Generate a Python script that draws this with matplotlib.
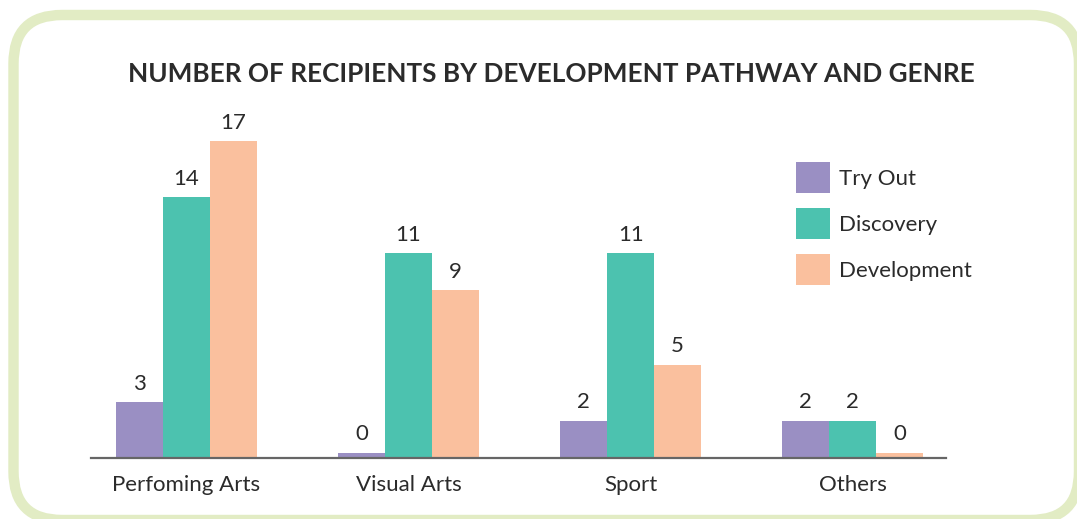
import numpy as np
import matplotlib.pyplot as plt
from matplotlib.patches import FancyBboxPatch, Patch

genres = ['Perfoming Arts', 'Visual Arts', 'Sport', 'Others']
try_out = [3, 0, 2, 2]
discovery = [14, 11, 11, 2]
development = [17, 9, 5, 0]
series_names = ['Try Out', 'Discovery', 'Development']
colors = ['#9a8fc3', '#4cc2af', '#fac09e']

TEXT = '#2b2b2b'
MIN_BAR = 0.28  # zero values still drawn as a thin sliver

plt.rcParams['font.family'] = ['Lato', 'DejaVu Sans']

W, H = 1077, 519
fig = plt.figure(figsize=(W / 100, H / 100), dpi=100)

# rounded green frame
frame = FancyBboxPatch((13.5 / W, -1 / H), (1079 - 13.5) / W, (504 + 1) / H,
                       boxstyle='round,pad=0,rounding_size=0.045',
                       transform=fig.transFigure, facecolor='white',
                       edgecolor='#e2ecc4', linewidth=7.5,
                       mutation_aspect=W / H, clip_on=False, zorder=-5)
fig.patches.append(frame)

fig.text(551 / W, 1 - 74 / H, 'NUMBER OF RECIPIENTS BY DEVELOPMENT PATHWAY AND GENRE',
         ha='center', va='center', fontsize=18.8, fontweight='bold', color=TEXT)

ax = fig.add_axes([91 / W, 1 - 458 / H, (946 - 91) / W, (458 - 100) / H], zorder=2)
ax.patch.set_alpha(0)

x = np.arange(len(genres))
width = 0.212
for i, (vals, col) in enumerate(zip([try_out, discovery, development], colors)):
    pos = x + (i - 1) * width
    heights = [max(v, MIN_BAR) for v in vals]
    ax.bar(pos, heights, width, color=col, zorder=2)
    for p, v, h in zip(pos, vals, heights):
        ax.annotate(str(v), (p, h), xytext=(0, 6), textcoords='offset points',
                    ha='center', va='bottom', fontsize=16, color=TEXT)

ax.set_xlim(-0.43, 3.42)
ax.set_ylim(0, 19.2)
ax.set_xticks(x)
ax.set_xticklabels(genres, fontsize=16, color=TEXT)
ax.tick_params(axis='x', length=0, pad=12)
ax.set_yticks([])
for s in ['top', 'right', 'left']:
    ax.spines[s].set_visible(False)
ax.spines['bottom'].set_color('#666666')
ax.spines['bottom'].set_linewidth(1.6)

handles = [Patch(facecolor=c, edgecolor='none') for c in colors]
fig.legend(handles, series_names, loc='upper left',
           bbox_to_anchor=(796 / W, 1 - 162 / H), frameon=False, fontsize=16,
           handlelength=1.55, handleheight=1.75, labelspacing=0.69,
           handletextpad=0.4, borderpad=0, borderaxespad=0, labelcolor=TEXT)

fig.savefig('out.png', dpi=100)
